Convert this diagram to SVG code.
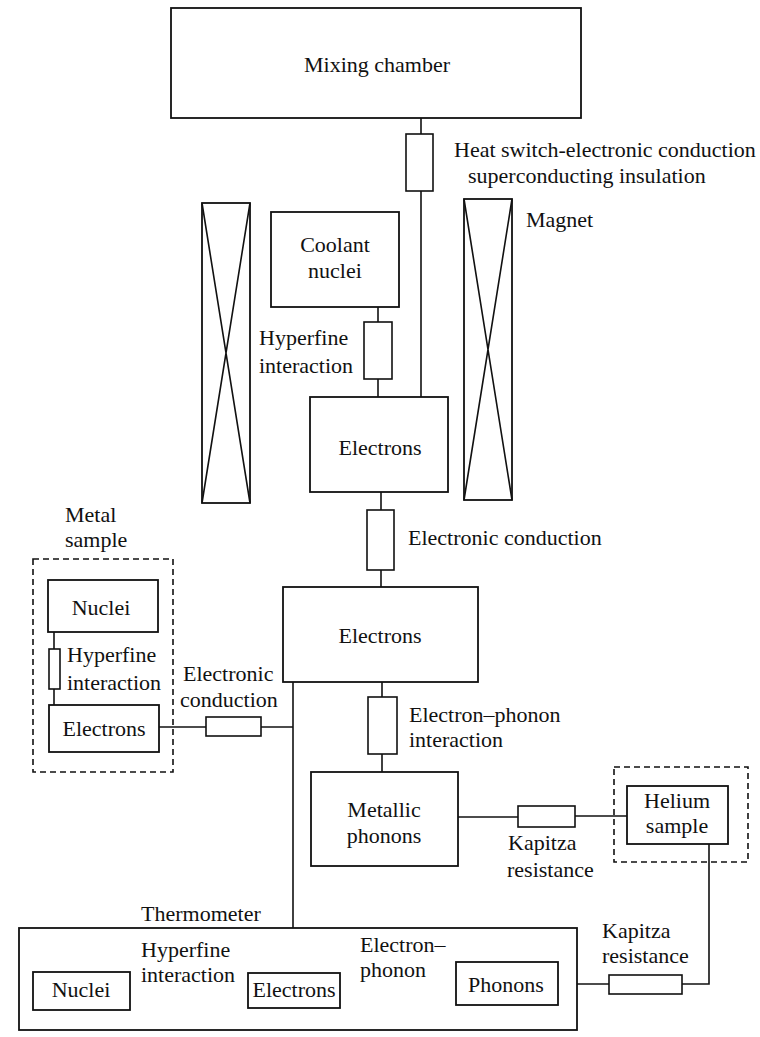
<svg xmlns="http://www.w3.org/2000/svg" width="760" height="1037" viewBox="0 0 760 1037">
<style>
.b{fill:#fff;stroke:#111;stroke-width:1.8}
.r{fill:#fff;stroke:#111;stroke-width:1.6}
.d{fill:none;stroke:#111;stroke-width:1.6;stroke-dasharray:6 4}
.w{stroke:#111;stroke-width:1.6;fill:none}
text{font-family:"Liberation Serif","Times New Roman",serif;font-size:22px;fill:#111}
.c{text-anchor:middle}
</style>
<rect width="760" height="1037" fill="#fff"/>
<g id="connectors">
<polyline class="w" points="421,118 421,397"/>
<polyline class="w" points="378,307 378,397"/>
<polyline class="w" points="381,492 381,587"/>
<polyline class="w" points="293,682 293,973"/>
<polyline class="w" points="293,727 159,727"/>
<polyline class="w" points="382,682 382,772"/>
<polyline class="w" points="458,817 518,817"/>
<polyline class="w" points="575,816 627,816"/>
<polyline class="w" points="709,844 709,984 682,984"/>
<polyline class="w" points="609,984 558,984"/>
<polyline class="w" points="54,632 54,705"/>
<polyline class="w" points="130,1003 248,1003"/>
<polyline class="w" points="340,1000 456,1000"/>
<rect class="r" x="406" y="134" width="27" height="57"/>
<rect class="r" x="364" y="322" width="28" height="57"/>
<rect class="r" x="367" y="510" width="27" height="60"/>
<rect class="r" x="368" y="697" width="29" height="57"/>
<rect class="r" x="518" y="806" width="57" height="21"/>
<rect class="r" x="609" y="975" width="73" height="19"/>
<rect class="r" x="49" y="649" width="11" height="40"/>
<rect class="r" x="206" y="717" width="55" height="19"/>
<rect class="r" x="163" y="996" width="53" height="13"/>
<rect class="r" x="378" y="993" width="53" height="13"/>
</g>
<g id="mixing-chamber"><rect class="b" x="171" y="8" width="410" height="110"/><text class="c" x="377" y="72">Mixing chamber</text></g>
<g id="heat-switch-label"><text x="454" y="157">Heat switch-electronic conduction</text><text x="468" y="183">superconducting insulation</text></g>
<g id="magnet-left"><rect class="b" x="202" y="203" width="48" height="300"/><path class="w" d="M202,203 L250,503 M250,203 L202,503"/></g>
<g id="magnet-right"><rect class="b" x="464" y="199" width="48" height="301"/><path class="w" d="M464,199 L512,500 M512,199 L464,500"/><text x="526" y="227">Magnet</text></g>
<g id="coolant-nuclei"><rect class="b" x="271" y="212" width="128" height="95"/><text class="c" x="335" y="252">Coolant</text><text class="c" x="335" y="278">nuclei</text></g>
<g id="hyperfine-label-top"><text x="259" y="345">Hyperfine</text><text x="259" y="373">interaction</text></g>
<g id="electrons-top"><rect class="b" x="310" y="397" width="138" height="95"/><text class="c" x="380" y="455">Electrons</text></g>
<g id="electronic-conduction-label"><text x="408" y="545">Electronic conduction</text></g>
<g id="electrons-mid"><rect class="b" x="283" y="587" width="195" height="95"/><text class="c" x="380" y="643">Electrons</text></g>
<g id="electron-phonon-label"><text x="409" y="722">Electron–phonon</text><text x="409" y="747">interaction</text></g>
<g id="metallic-phonons"><rect class="b" x="311" y="772" width="147" height="94"/><text class="c" x="384" y="817">Metallic</text><text class="c" x="384" y="843">phonons</text></g>
<g id="kapitza-label-1"><text x="508" y="850">Kapitza</text><text x="507" y="877">resistance</text></g>
<g id="helium-sample"><rect class="d" x="614" y="767" width="134" height="95"/><rect class="b" x="627" y="786" width="101" height="58"/><text class="c" x="677" y="808">Helium</text><text class="c" x="677" y="833">sample</text></g>
<g id="metal-sample"><text x="65" y="522">Metal</text><text x="65" y="547">sample</text><rect class="d" x="33" y="559" width="140" height="213"/>
<rect class="b" x="48" y="580" width="110" height="52"/><text class="c" x="101" y="615">Nuclei</text>
<text x="67" y="662">Hyperfine</text><text x="67" y="690">interaction</text>
<rect class="b" x="49" y="705" width="110" height="47"/><text class="c" x="104" y="736">Electrons</text></g>
<g id="electronic-conduction-label-2"><text x="183" y="681">Electronic</text><text x="180" y="707">conduction</text></g>
<g id="thermometer"><text x="141" y="921">Thermometer</text><rect class="b" x="19" y="928" width="558" height="102"/>
<rect class="b" x="33" y="972" width="97" height="38"/><text class="c" x="81" y="997">Nuclei</text>
<text x="141" y="957">Hyperfine</text><text x="141" y="982">interaction</text>
<rect class="b" x="248" y="973" width="92" height="35"/><text class="c" x="294" y="997">Electrons</text>
<text x="360" y="952">Electron–</text><text x="360" y="977">phonon</text>
<rect class="b" x="456" y="962" width="102" height="43"/><text class="c" x="506" y="992">Phonons</text></g>
<g id="kapitza-label-2"><text x="602" y="938">Kapitza</text><text x="602" y="963">resistance</text></g>
</svg>
